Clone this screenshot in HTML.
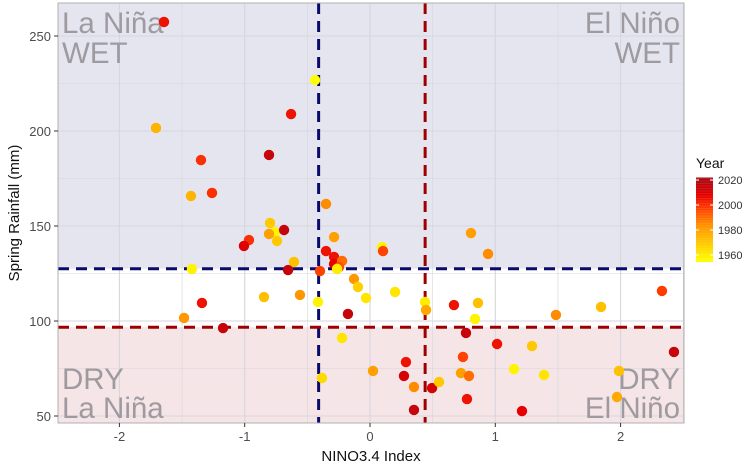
<!DOCTYPE html>
<html><head><meta charset="utf-8"><style>
body{margin:0;background:#fff;font-family:"Liberation Sans",sans-serif;}
svg{display:block}
</style></head><body>
<svg id="chart" width="754" height="471" xmlns="http://www.w3.org/2000/svg"></svg>
<script>
const ensoIndex=[-1.644,-0.439,-0.630,-1.708,-0.806,-1.349,-1.261,-1.429,-0.798,-0.758,-0.686,-0.806,-0.742,-0.966,-1.006,-0.607,-0.654,-0.399,-1.421,-0.846,-0.559,-0.415,-1.341,-0.176,-0.223,-1.484,-1.173,-0.383,0.024,-0.351,-0.287,-0.128,-0.096,-0.032,-0.351,-0.287,-0.287,-0.223,-0.247,-0.263,0.200,0.439,0.447,0.096,0.104,0.287,0.271,0.351,0.351,0.495,0.551,0.670,0.862,0.838,0.766,0.742,0.726,0.790,0.774,1.014,1.149,1.293,1.389,1.213,1.484,1.844,2.330,2.426,1.987,1.971,0.806,0.942];
const rainfall=[257.4,226.8,208.9,201.6,187.4,184.7,167.4,165.8,151.6,146.8,147.9,145.8,142.1,142.6,139.5,131.1,126.8,126.3,127.4,112.6,113.7,110.0,109.5,103.7,91.1,101.6,96.3,70.0,73.7,161.6,144.2,122.1,117.9,112.1,136.8,133.7,130.0,131.6,128.4,127.4,115.3,110.0,105.8,138.9,136.8,78.4,71.1,65.3,53.2,64.7,67.9,108.4,109.5,101.1,93.7,81.1,72.6,71.1,58.9,87.9,74.7,86.8,71.6,52.6,103.2,107.4,115.8,83.7,73.7,60.0,146.3,135.3];
const years=[2005,1955,2005,1975,2015,2000,2000,1975,1970,1958,2015,1980,1970,2000,2010,1972,2015,1997,1958,1972,1982,1958,2005,2015,1962,1982,2015,1965,1980,1985,1980,1982,1968,1962,2005,2005,2008,1990,1995,1960,1962,1960,1978,1958,1997,2005,2012,1985,2015,2012,1970,2005,1972,1958,2015,1997,1980,1990,2005,2005,1958,1970,1962,2008,1985,1972,1998,2015,1972,1978,1980,1985];
const yLow=96.7, yHigh=127.5, xLow=-0.41, xHigh=0.44;
const xTicks=[-2,-1,0,1,2], yTicks=[50,100,150,200,250];
const legendTicks=[1960,1980,2000,2020];

const svg=document.getElementById('chart');const NS='http://www.w3.org/2000/svg';
function el(t,a,p){const e=document.createElementNS(NS,t);for(const k in a)e.setAttribute(k,a[k]);(p||svg).appendChild(e);return e;}
const L=58,R=684,T=3,B=423;
const sx=v=>370+v*125.3, sy=v=>321-(v-100)*1.9;
const cl=(v,a,b)=>Math.max(a,Math.min(b,v));
let e;
e=el('rect',{x:L,y:T,width:R-L,height:sy(yHigh)-T,fill:'#e5e5ef'});
e=el('rect',{x:L,y:sy(yHigh),width:R-L,height:sy(yLow)-sy(yHigh),fill:'#ffffff'});
e=el('rect',{x:L,y:sy(yLow),width:R-L,height:B-sy(yLow),fill:'#f5e5e7'});
const g=el('g',{});
for(let v=-2.5;v<=2.5;v+=0.5){const x=sx(v);if(x<L||x>R)continue;el('line',{x1:x,x2:x,y1:T,y2:B,stroke:'#d6d6de','stroke-width':Number.isInteger(v)?1.1:0.6},g);}
for(let v=50;v<=250;v+=25){el('line',{x1:L,x2:R,y1:sy(v),y2:sy(v),stroke:'#d6d6de','stroke-width':v%50==0?1.1:0.6},g);}
function qt(txt,x,y,anchor,name){const t=el('text',{x:x,y:y,'text-anchor':anchor,'font-size':29.5,fill:'#9e9aa0'});t.textContent=txt;}
qt('La Niña',62,33,'start','label-la-nina-wet');qt('WET',62,63,'start','label-la-nina-wet-2');
qt('El Niño',680,33,'end','label-el-nino-wet');qt('WET',680,63,'end','label-el-nino-wet-2');
qt('DRY',62,389,'start','label-dry-la-nina');qt('La Niña',62,418,'start','label-dry-la-nina-2');
qt('DRY',680,389,'end','label-dry-el-nino');qt('El Niño',680,418,'end','label-dry-el-nino-2');
function dl(a,name){e=el('line',Object.assign({'stroke-width':3,'stroke-dasharray':'11,7'},a));}
dl({x1:sx(xLow),x2:sx(xLow),y1:T,y2:B,stroke:'#0a0a6a'},'la-nina-threshold-line');
dl({x1:sx(xHigh),x2:sx(xHigh),y1:T,y2:B,stroke:'#9e0000'},'el-nino-threshold-line');
dl({x1:L,x2:R,y1:sy(yHigh),y2:sy(yHigh),stroke:'#0a0a6a'},'wet-threshold-line');
dl({x1:L,x2:R,y1:sy(yLow),y2:sy(yLow),stroke:'#9e0000'},'dry-threshold-line');
const stops=[[1955,[255,255,0]],[1970,[255,200,0]],[1985,[255,140,0]],[1998,[255,60,0]],[2008,[230,0,0]],[2022,[165,10,20]]];
function col(y){y=cl(y,1955,2022);for(let i=0;i<stops.length-1;i++){const[a,ca]=stops[i],[b,cb]=stops[i+1];if(y<=b){const t=(y-a)/(b-a);return 'rgb('+ca.map((c,j)=>Math.round(c+(cb[j]-c)*t)).join(',')+')';}}return 'rgb(165,10,20)';}
const n=Math.min(ensoIndex.length,rainfall.length,years.length);
for(let i=0;i<n;i++){const c=el('circle',{cx:sx(ensoIndex[i]),cy:sy(rainfall[i]),r:5.2,fill:col(years[i])});

}
e=el('rect',{x:L,y:T,width:R-L,height:B-T,fill:'none',stroke:'#b0b0b0','stroke-width':1});
xTicks.forEach(v=>{el('line',{x1:sx(v),x2:sx(v),y1:B,y2:B+4,stroke:'#333'});const t=el('text',{x:sx(v),y:B+18,'text-anchor':'middle','font-size':13,fill:'#4d4d4d'});t.textContent=v;});
yTicks.forEach(v=>{el('line',{x1:L-4,x2:L,y1:sy(v),y2:sy(v),stroke:'#333'});const t=el('text',{x:L-7,y:sy(v)+5,'text-anchor':'end','font-size':13,fill:'#4d4d4d'});t.textContent=v;});
e=el('text',{x:371,y:461,'text-anchor':'middle','font-size':15,fill:'#111'});e.textContent='NINO3.4 Index';
e=el('text',{x:0,y:0,'text-anchor':'middle','font-size':15,fill:'#111',transform:'translate(19,213) rotate(-90)'});e.textContent='Spring Rainfall (mm)';
e=el('text',{x:696,y:168,'font-size':14,fill:'#111'});e.textContent='Year';
const ly=v=>180+(2020-v)*1.25;
const lg=el('g',{});
for(let y=2022;y>=1955;y-=0.5){el('rect',{x:696,y:ly(y),width:17,height:0.8,fill:col(y)},lg);}
legendTicks.forEach(v=>{el('line',{x1:696,x2:699,y1:ly(v),y2:ly(v),stroke:'#fff'});el('line',{x1:710,x2:713,y1:ly(v),y2:ly(v),stroke:'#fff'});const t=el('text',{x:718,y:ly(v)+4,'font-size':11,fill:'#333'});t.textContent=v;});
</script>
</body></html>
